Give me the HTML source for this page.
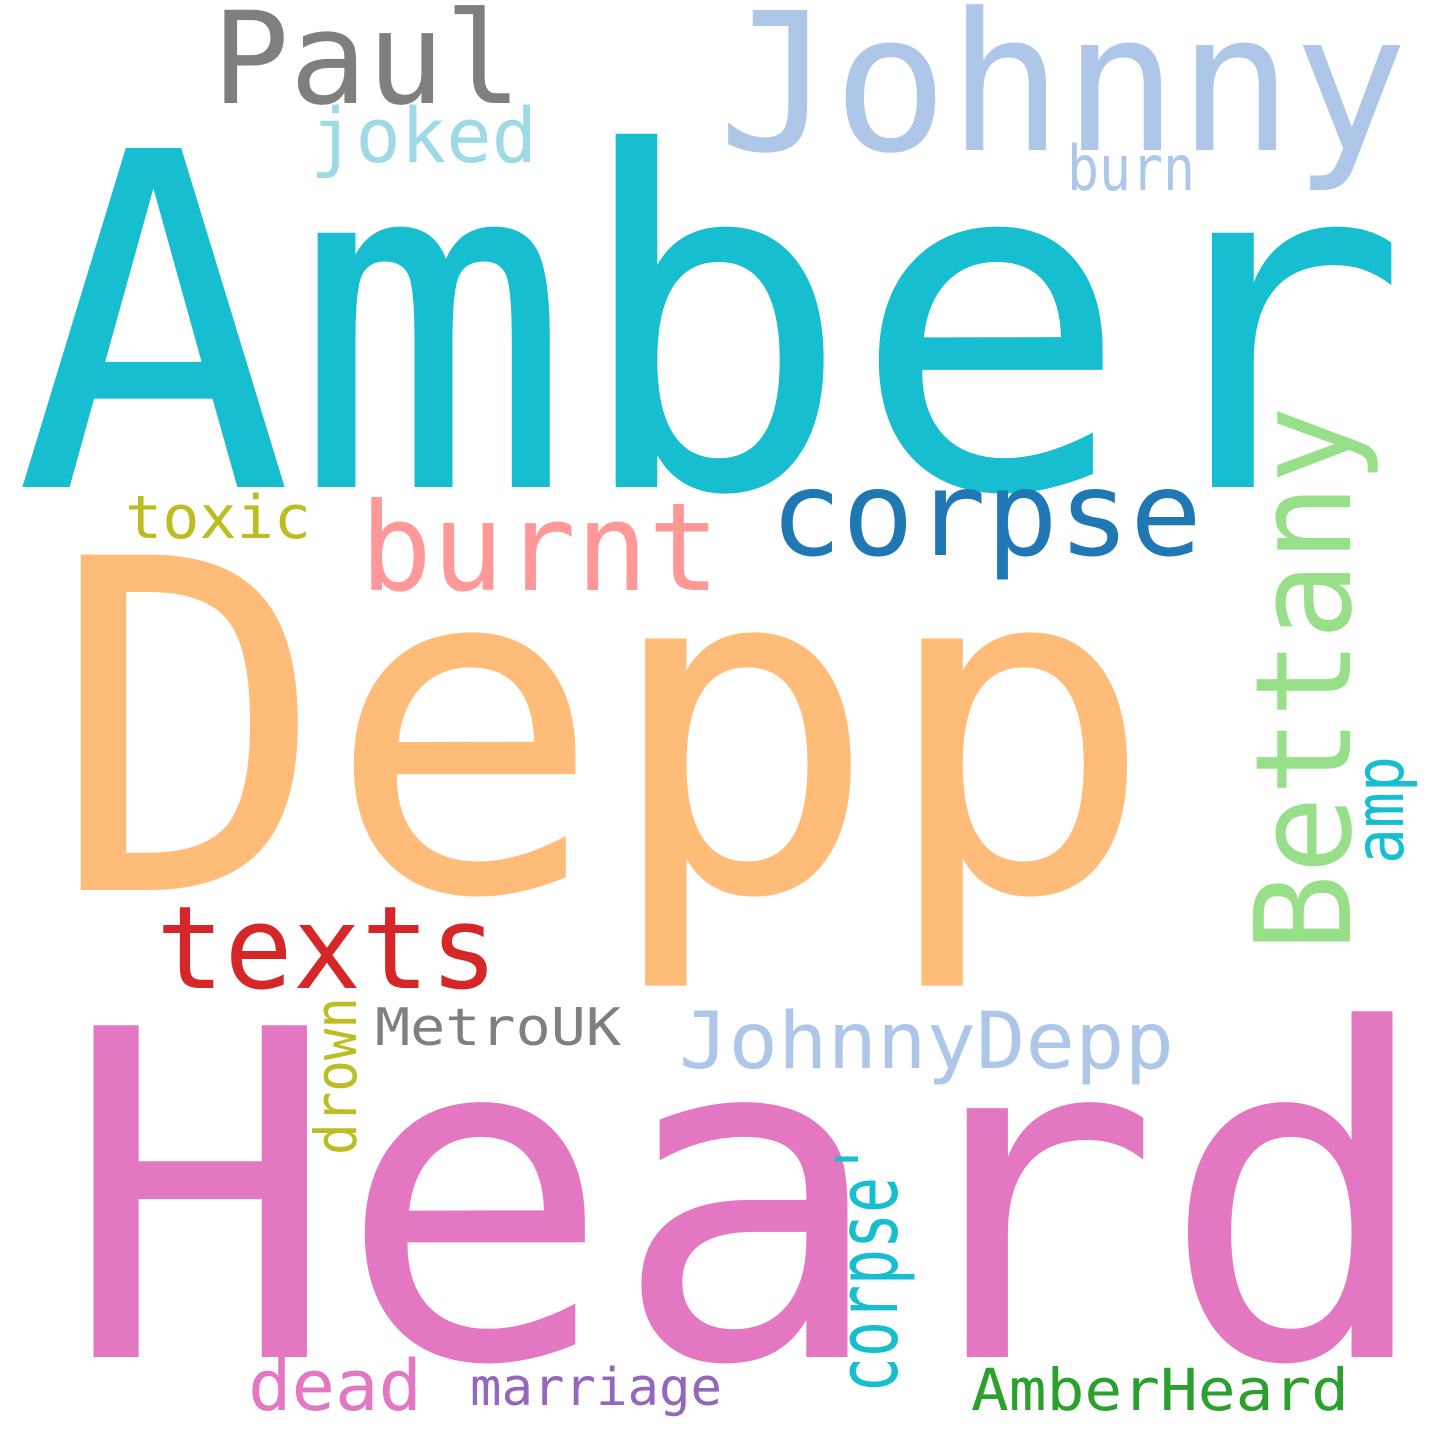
<!DOCTYPE html>
<html><head><meta charset="utf-8"><style>
html,body{margin:0;padding:0;background:#fff;width:1440px;height:1440px;overflow:hidden}
svg{display:block}
text{font-family:"DejaVu Sans Mono","Liberation Mono",monospace}
</style></head><body>
<svg width="1440" height="1440" viewBox="0 0 1440 1440">
<rect width="1440" height="1440" fill="#fff"/>
<text x="14" y="487" font-size="465" fill="#17becf" textLength="1395" lengthAdjust="spacingAndGlyphs">Amber</text>
<text x="50" y="890" font-size="460" fill="#ffbb78" textLength="1105" lengthAdjust="spacingAndGlyphs">Depp</text>
<text x="63" y="1357" font-size="455" fill="#e377c2" textLength="1372" lengthAdjust="spacingAndGlyphs">Heard</text>
<text x="718" y="150" font-size="192" fill="#aec7e8" textLength="690" lengthAdjust="spacingAndGlyphs">Johnny</text>
<text x="212" y="103" font-size="128" fill="#7f7f7f" textLength="310" lengthAdjust="spacingAndGlyphs">Paul</text>
<text x="310" y="162" font-size="76" fill="#9edae5" textLength="227" lengthAdjust="spacingAndGlyphs">joked</text>
<text x="1067" y="190" font-size="62" fill="#aec7e8" textLength="128" lengthAdjust="spacingAndGlyphs">burn</text>
<text x="125" y="538" font-size="60" fill="#bcbd22" textLength="186" lengthAdjust="spacingAndGlyphs">toxic</text>
<text x="360" y="590" font-size="122" fill="#ff9896" textLength="360" lengthAdjust="spacingAndGlyphs">burnt</text>
<text x="770" y="555" font-size="118" fill="#1f77b4" textLength="432" lengthAdjust="spacingAndGlyphs">corpse</text>
<text x="1350" y="952" font-size="133" fill="#98df8a" textLength="546" lengthAdjust="spacingAndGlyphs" transform="rotate(-90 1350 952)">Bettany</text>
<text x="1403" y="864" font-size="68" fill="#17becf" textLength="108" lengthAdjust="spacingAndGlyphs" transform="rotate(-90 1403 864)">amp</text>
<text x="156" y="988" font-size="115" fill="#d62728" textLength="342" lengthAdjust="spacingAndGlyphs">texts</text>
<text x="356" y="1155" font-size="58" fill="#bcbd22" textLength="158" lengthAdjust="spacingAndGlyphs" transform="rotate(-90 356 1155)">drown</text>
<text x="375" y="1045" font-size="52" fill="#7f7f7f" textLength="246" lengthAdjust="spacingAndGlyphs">MetroUK</text>
<text x="679" y="1068" font-size="78" fill="#aec7e8" textLength="495" lengthAdjust="spacingAndGlyphs">JohnnyDepp</text>
<text x="897" y="1393" font-size="85" fill="#17becf" textLength="252" lengthAdjust="spacingAndGlyphs" transform="rotate(-90 897 1393)">corpse'</text>
<text x="248" y="1410" font-size="70" fill="#e377c2" textLength="174" lengthAdjust="spacingAndGlyphs">dead</text>
<text x="470" y="1405" font-size="52" fill="#9467bd" textLength="252" lengthAdjust="spacingAndGlyphs">marriage</text>
<text x="971" y="1410" font-size="58" fill="#2ca02c" textLength="378" lengthAdjust="spacingAndGlyphs">AmberHeard</text>
</svg>
</body></html>
